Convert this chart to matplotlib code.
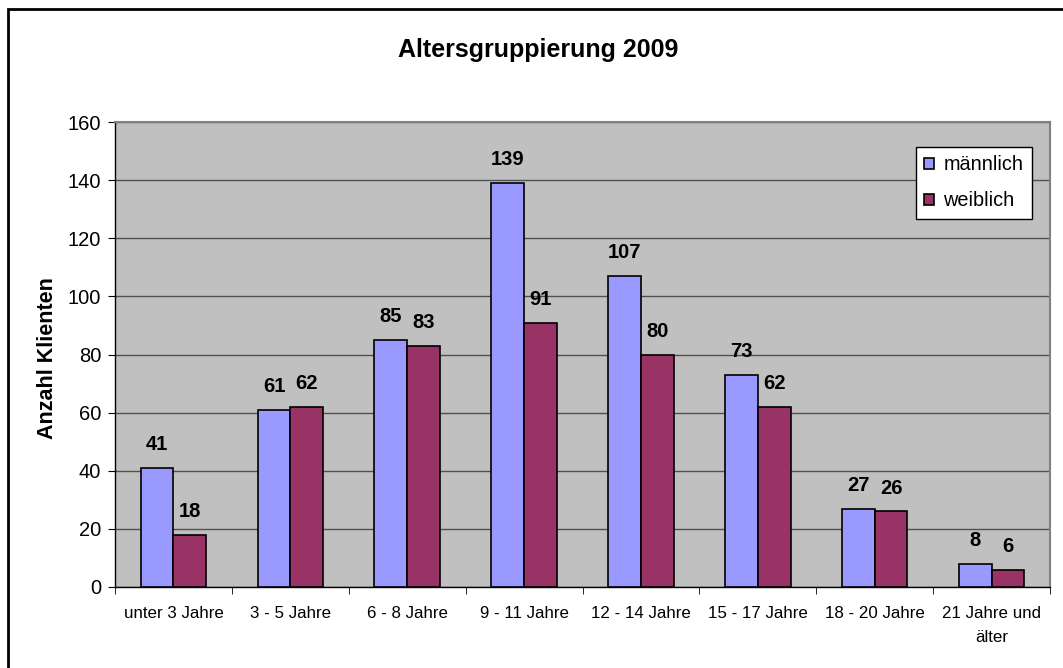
import matplotlib
matplotlib.use("Agg")
import matplotlib.pyplot as plt
import numpy as np
from matplotlib.patches import Rectangle

categories = ["unter 3 Jahre", "3 - 5 Jahre", "6 - 8 Jahre", "9 - 11 Jahre",
              "12 - 14 Jahre", "15 - 17 Jahre", "18 - 20 Jahre", "21 Jahre und\nälter"]
maennlich = [41, 61, 85, 139, 107, 73, 27, 8]
weiblich = [18, 62, 83, 91, 80, 62, 26, 6]
series_names = ["männlich", "weiblich"]
yticks = [0, 20, 40, 60, 80, 100, 120, 140, 160]

plt.rcParams['font.family'] = ['Liberation Sans', 'DejaVu Sans']

fig = plt.figure(figsize=(10.63, 6.68), dpi=100)
ax = fig.add_axes([115/1063, 1-587/668, (1050-115)/1063, (587-122)/668])

x = np.arange(len(categories))
w = 0.28
b1 = ax.bar(x - w/2, maennlich, w, color="#9999FF", edgecolor="black", linewidth=1.2,
            label=series_names[0], zorder=3)
b2 = ax.bar(x + w/2, weiblich, w, color="#993366", edgecolor="black", linewidth=1.2,
            label=series_names[1], zorder=3)

for bars, vals in ((b1, maennlich), (b2, weiblich)):
    for r, v in zip(bars, vals):
        ax.annotate(str(v), (r.get_x() + r.get_width()/2, v), xytext=(0, 10),
                    textcoords="offset points", ha="center", va="bottom",
                    fontsize=14.5, fontweight="bold")

ax.set_facecolor("#C0C0C0")
ax.set_xlim(-0.5, len(categories) - 0.5)
ax.set_ylim(0, 160)
ax.set_yticks(yticks)
ax.set_yticklabels([str(t) for t in yticks], fontsize=14.5)
ax.yaxis.grid(True, color="#505050", linewidth=1.0, zorder=0)
ax.set_axisbelow(True)

ax.set_xticks(x)
ax.set_xticklabels(categories, fontsize=12.2, linespacing=1.75)
ax.set_xticks(np.arange(-0.5, len(categories)), minor=True)
ax.tick_params(axis="x", which="major", length=0, pad=14)
ax.tick_params(axis="x", which="minor", length=5, direction="out")
ax.tick_params(axis="y", length=5, direction="out", pad=5)
for lbl in ax.get_xticklabels():
    lbl.set_verticalalignment("top")

for s in ["top", "right"]:
    ax.spines[s].set_color("#808080")
    ax.spines[s].set_linewidth(1.5)
for s in ["left", "bottom"]:
    ax.spines[s].set_color("black")
    ax.spines[s].set_linewidth(1.0)

ax.set_ylabel("Anzahl Klienten", fontsize=15.5, fontweight="bold")
ax.yaxis.set_label_coords((58-115)/935, (587-358)/465)

fig.text(538/1063, 1-50/668, "Altersgruppierung 2009", ha="center", va="center",
         fontsize=18, fontweight="bold")

leg = ax.legend(loc="upper left", bbox_to_anchor=((916-115)/935, 1-(147-122)/465),
                fontsize=14.3, frameon=True, fancybox=False, edgecolor="black",
                handlelength=0.5, handleheight=0.5, handletextpad=0.45,
                borderpad=0.42, labelspacing=0.85, borderaxespad=0)
leg.get_frame().set_linewidth(1.0)
leg.get_frame().set_facecolor("white")
leg.get_frame().set_alpha(1)

fig.patches.append(Rectangle((8/1063, -0.05), 1.1, 1.05 - 9/668, transform=fig.transFigure,
                             fill=False, edgecolor="black", linewidth=2, zorder=10))

fig.savefig("out.png", dpi=100)
